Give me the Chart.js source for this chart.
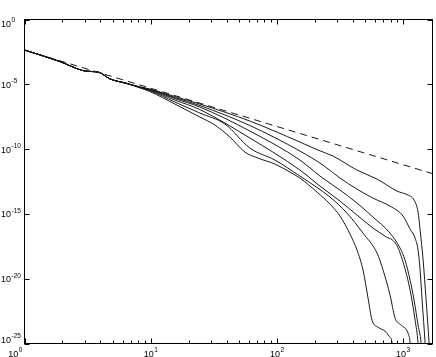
<!DOCTYPE html>
<html>
<head>
<meta charset="utf-8">
<script src="https://cdn.jsdelivr.net/npm/chart.js@4/dist/chart.umd.min.js"></script>
<style>
  html, body { margin: 0; padding: 0; background: #fff; }
  #wrap { width: 436px; height: 357px; }
</style>
</head>
<body>
<div id="wrap"><canvas id="c" width="436" height="357"></canvas></div>
<script>
// shared start of every solid curve
const bundleX = [1, 1.906, 2.902, 3.421, 3.888, 4.753, 6.486];
const bundleY = [4.41e-3, 5.71e-4, 1.15e-4, 9.66e-5, 8.53e-5, 2.64e-5, 1.16e-5];

// solid curves, from top (F) to bottom (A)
const fX = [8.226, 9.872, 15.59, 24.62, 61.39, 153.0, 212.7, 279.8, 433.8, 625.2, 901.2, 1102, 1229, 1322, 1372, 1449, 1531, 1617, 1647];
const fY = [6.35e-6, 4.30e-6, 1.13e-6, 2.99e-7, 1.45e-8, 3.47e-10, 8.37e-11, 2.88e-11, 2.39e-12, 4.82e-13, 5.71e-14, 2.81e-14, 1.15e-14, 1.36e-15, 5.56e-17, 2.68e-19, 2.19e-22, 1.05e-25, 5.1e-27];

const eX = [8.226, 9.872, 15.59, 24.62, 61.39, 153.0, 233.1, 318.0, 433.8, 581.1, 792.9, 1005.5, 1143, 1252, 1322, 1372, 1423, 1503, 1531];
const eY = [6.13e-6, 4.07e-6, 9.48e-7, 2.29e-7, 6.53e-9, 7.01e-11, 5.81e-12, 5.77e-13, 8.15e-14, 1.64e-14, 3.96e-15, 6.70e-16, 6.64e-17, 1.34e-17, 1.59e-18, 4.53e-20, 2.19e-22, 1.05e-25, 5.1e-27];

const dX = [8.226, 9.872, 15.59, 24.62, 61.39, 153.0, 220.6, 318.0, 433.8, 581.1, 792.9, 952.0, 1043, 1143, 1229, 1322, 1397, 1423];
const dY = [5.92e-6, 3.86e-6, 7.94e-7, 1.75e-7, 2.45e-9, 1.42e-11, 8.22e-13, 6.82e-14, 6.76e-15, 5.61e-16, 3.26e-17, 2.27e-18, 2.68e-19, 7.66e-21, 2.19e-22, 2.56e-24, 1.05e-25, 5.1e-27];

const cX = [8.226, 9.872, 15.59, 24.62, 61.39, 153.0, 220.6, 318.0, 433.8, 581.1, 723.9, 884.9, 1005.5, 1143, 1252, 1322, 1347];
const cY = [5.71e-6, 3.60e-6, 6.08e-7, 1.12e-7, 7.07e-10, 2.39e-12, 1.39e-13, 9.66e-15, 8.00e-16, 7.94e-17, 1.91e-17, 4.61e-18, 1.88e-19, 1.29e-21, 6.23e-24, 1.05e-25, 5.1e-27];

const bX = [8.226, 9.872, 15.59, 24.62, 38.88, 61.39, 96.94, 153.0, 264.9, 361.4, 484.0, 625.2, 698.0, 792.9, 868.8, 952.0, 1043, 1102, 1143, 1164];
const bY = [5.51e-6, 3.24e-6, 4.26e-7, 6.03e-8, 8.51e-9, 1.19e-10, 1.42e-11, 8.22e-13, 1.96e-14, 1.14e-15, 3.26e-17, 9.31e-19, 4.53e-20, 5.32e-22, 8.89e-24, 3.06e-24, 1.50e-24, 6.18e-25, 1.05e-25, 5.1e-27];

const aX = [8.226, 9.872, 15.59, 24.62, 32.38, 42.60, 56.03, 71.06, 96.94, 127.5, 153.0, 208.9, 264.9, 318.0, 381.7, 433.8, 484.0, 530.4, 570.6, 636.8, 723.9, 778.5, 822.5, 837.5];
const aY = [5.32e-6, 2.75e-6, 2.99e-7, 2.96e-8, 7.13e-9, 8.45e-10, 5.86e-11, 2.02e-11, 6.95e-12, 1.68e-12, 5.77e-13, 4.78e-14, 5.66e-15, 6.70e-16, 2.73e-17, 1.59e-18, 4.53e-20, 3.12e-22, 6.23e-24, 1.80e-24, 8.83e-25, 3.63e-25, 1.05e-25, 5.1e-27];

// dashed reference line
const refX = [1, 1720];
const refY = [4.4e-3, 1.28e-12];

// axes
const xMin = 1, xMax = 1720;
const yMin = 1e-25, yMax = 1;
const xTickExp = [0, 1, 2, 3];
const yTickExp = [0, -5, -10, -15, -20, -25];

function pts(xs, ys) {
  return xs.map((x, i) => ({ x: x, y: ys[i] }));
}
function curve(xs, ys) {
  return {
    data: pts(bundleX.concat(xs), bundleY.concat(ys)),
    borderColor: '#1a1a1a',
    borderWidth: 1,
    pointRadius: 0,
    cubicInterpolationMode: 'monotone',
    fill: false
  };
}

const frame = {
  id: 'frame',
  afterDraw(chart) {
    const { ctx, chartArea: a, scales: { x, y } } = chart;
    ctx.save();
    ctx.strokeStyle = '#000';
    ctx.lineWidth = 1;
    ctx.strokeRect(a.left, a.top, a.right - a.left, a.bottom - a.top);

    ctx.beginPath();
    for (let k = 0; k <= 3; k++) {
      for (let m = 1; m <= 9; m++) {
        const v = m * Math.pow(10, k);
        if (v > xMax) continue;
        const px = Math.round(x.getPixelForValue(v)) + 0.5;
        const len = m === 1 ? 5 : 3;
        ctx.moveTo(px, a.bottom); ctx.lineTo(px, a.bottom - len);
        ctx.moveTo(px, a.top); ctx.lineTo(px, a.top + len);
      }
    }
    yTickExp.forEach(e => {
      const py = Math.round(y.getPixelForValue(Math.pow(10, e))) + 0.5;
      ctx.moveTo(a.left, py); ctx.lineTo(a.left + 5, py);
      ctx.moveTo(a.right, py); ctx.lineTo(a.right - 5, py);
    });
    ctx.stroke();

    ctx.fillStyle = '#000';
    ctx.textBaseline = 'alphabetic';
    const baseFont = '9px "Liberation Sans", Arial, sans-serif';
    const expFont = '6.5px "Liberation Sans", Arial, sans-serif';

    yTickExp.forEach(e => {
      const py = y.getPixelForValue(Math.pow(10, e));
      let off = 3.4;
      if (e === 0) off = 7;
      if (e === -25) off = -0.5;
      ctx.font = baseFont;
      ctx.textAlign = 'left';
      ctx.fillText('10', 1, py + off);
      const w = ctx.measureText('10').width;
      ctx.font = expFont;
      ctx.fillText(String(e), 1 + w + 0.5, py + off - 4.6);
    });

    xTickExp.forEach(e => {
      let px = x.getPixelForValue(Math.pow(10, e));
      if (e === 0) px = 15;
      ctx.font = baseFont;
      const w1 = ctx.measureText('10').width;
      ctx.font = expFont;
      const w2 = ctx.measureText(String(e)).width;
      const left = px - (w1 + w2) / 2;
      ctx.font = baseFont;
      ctx.textAlign = 'left';
      ctx.fillText('10', left, 356.5);
      ctx.font = expFont;
      ctx.fillText(String(e), left + w1 + 0.5, 352);
    });
    ctx.restore();
  }
};

new Chart(document.getElementById('c'), {
  type: 'line',
  data: {
    datasets: [
      {
        data: pts(refX, refY),
        borderColor: '#1a1a1a',
        borderWidth: 1,
        borderDash: [7, 5],
        pointRadius: 0,
        fill: false
      },
      curve(fX, fY),
      curve(eX, eY),
      curve(dX, dY),
      curve(cX, cY),
      curve(bX, bY),
      curve(aX, aY)
    ]
  },
  options: {
    responsive: false,
    animation: false,
    devicePixelRatio: 1,
    layout: { padding: { left: 24.5, right: 3.5, top: 19.5, bottom: 13.5 } },
    scales: {
      x: { type: 'logarithmic', min: xMin, max: xMax, display: false },
      y: { type: 'logarithmic', min: yMin, max: yMax, display: false }
    },
    plugins: {
      legend: { display: false },
      tooltip: { enabled: false }
    }
  },
  plugins: [frame]
});
</script>
</body>
</html>
